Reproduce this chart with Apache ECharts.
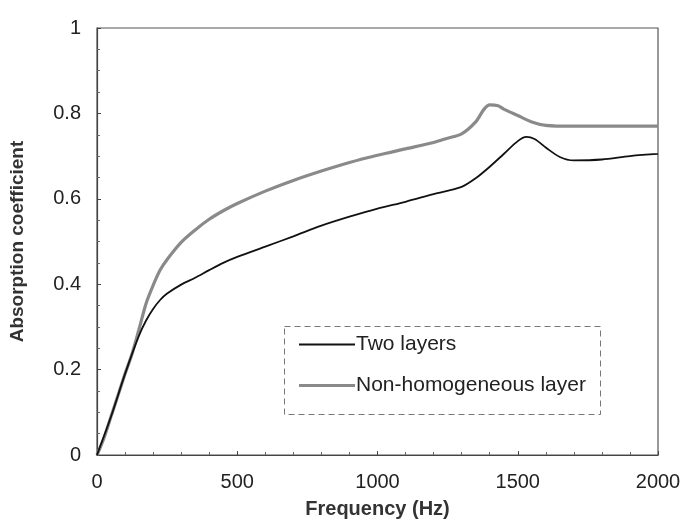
<!DOCTYPE html>
<html>
<head>
<meta charset="utf-8">
<script src="https://cdn.jsdelivr.net/npm/echarts@6/dist/echarts.min.js"></script>
<style>html,body{margin:0;padding:0;background:#fff}#c{width:683px;height:521px}</style>
</head>
<body>
<div id="c"></div>
<script>
const xTicks = [0, 500, 1000, 1500, 2000];
const yTicks = [0, 0.2, 0.4, 0.6, 0.8, 1];
const freqTwo = [0, 50, 100, 150, 175, 200, 225, 250, 300, 350, 400, 450, 500, 600, 700, 800, 900, 1000, 1100, 1200, 1300, 1350, 1400, 1450, 1500, 1530, 1560, 1600, 1650, 1700, 1800, 1900, 2000];
const twoLayers = [0, 0.09, 0.19, 0.28, 0.315, 0.342, 0.363, 0.378, 0.399, 0.415, 0.433, 0.45, 0.464, 0.488, 0.512, 0.537, 0.558, 0.577, 0.593, 0.611, 0.628, 0.648, 0.675, 0.705, 0.735, 0.745, 0.74, 0.72, 0.698, 0.69, 0.692, 0.70, 0.705];
const freqNon = [0, 25, 50, 75, 100, 125, 150, 175, 200, 225, 250, 300, 350, 400, 450, 500, 600, 700, 800, 900, 1000, 1100, 1200, 1250, 1300, 1350, 1380, 1400, 1430, 1450, 1500, 1550, 1600, 1700, 1800, 1900, 2000];
const nonHomog = [0, 0.04, 0.09, 0.14, 0.19, 0.237, 0.295, 0.355, 0.397, 0.433, 0.458, 0.498, 0.527, 0.552, 0.572, 0.589, 0.618, 0.643, 0.665, 0.685, 0.702, 0.717, 0.732, 0.742, 0.752, 0.78, 0.81, 0.82, 0.818, 0.81, 0.795, 0.78, 0.772, 0.77, 0.77, 0.77, 0.77];
const seriesNames = ['Two layers', 'Non-homogeneous layer'];

const chart = echarts.init(document.getElementById('c'), null, {renderer: 'canvas'});
const font = 'Liberation Sans, Arial, sans-serif';
chart.setOption({
  animation: false,
  backgroundColor: '#fff',
  textStyle: {fontFamily: font},
  grid: {left: 97, right: 25, top: 28, bottom: 66, show: true, borderColor: '#555', borderWidth: 1.2, containLabel: false, outerBoundsMode: 'none'},
  xAxis: {
    type: 'value', min: xTicks[0], max: xTicks[xTicks.length - 1], interval: 500,
    name: 'Frequency (Hz)', nameLocation: 'middle', nameGap: 44,
    nameTextStyle: {fontSize: 20, fontWeight: 'bold', color: '#333', fontFamily: font},
    axisLine: {lineStyle: {color: '#444', width: 1.2}},
    axisTick: {inside: true, length: 4, lineStyle: {color: '#444'}},
    minorTick: {show: true, splitNumber: 5, length: 3, lineStyle: {color: '#666'}},
    axisLabel: {fontSize: 20, color: '#222', margin: 17, fontFamily: font, formatter: v => String(v)},
    splitLine: {show: false}
  },
  yAxis: {
    type: 'value', min: yTicks[0], max: yTicks[yTicks.length - 1], interval: 0.2,
    name: 'Absorption coefficient', nameLocation: 'middle', nameGap: 70,
    nameTextStyle: {fontSize: 19, fontWeight: 'bold', color: '#333', fontFamily: font},
    axisLine: {lineStyle: {color: '#444', width: 1.2}},
    axisTick: {inside: true, length: 4, lineStyle: {color: '#444'}},
    minorTick: {show: true, splitNumber: 4, length: 3, lineStyle: {color: '#666'}},
    axisLabel: {fontSize: 20, color: '#222', margin: 16, fontFamily: font, formatter: v => String(+v.toFixed(1))},
    splitLine: {show: false}
  },
  legend: {
    orient: 'vertical', left: 294, top: 329, itemGap: 20, itemWidth: 56, itemHeight: 21,
    textStyle: {fontSize: 21, color: '#222', fontFamily: font, padding: [0, 0, 0, -4]},
    data: [
      {name: seriesNames[0], icon: 'path://M0,9.5 L56,9.5 L56,11.5 L0,11.5 Z'},
      {name: seriesNames[1], icon: 'path://M0,9 L56,9 L56,12 L0,12 Z'}
    ]
  },
  graphic: [{
    type: 'rect', left: 282, top: 324, shape: {width: 316, height: 88},
    style: {fill: 'none', stroke: '#777', lineWidth: 1, lineDash: [6, 4]}, z: 5
  }],
  series: [
    {
      name: seriesNames[0], type: 'line', showSymbol: false, smooth: 0.3,
      data: freqTwo.map((f, i) => [f, twoLayers[i]]),
      lineStyle: {color: '#111', width: 1.8}, itemStyle: {color: '#111'}, z: 3
    },
    {
      name: seriesNames[1], type: 'line', showSymbol: false, smooth: 0.3,
      data: freqNon.map((f, i) => [f, nonHomog[i]]),
      lineStyle: {color: '#8a8a8a', width: 3.2}, itemStyle: {color: '#8a8a8a'}, z: 2
    }
  ]
});
</script>
</body>
</html>
